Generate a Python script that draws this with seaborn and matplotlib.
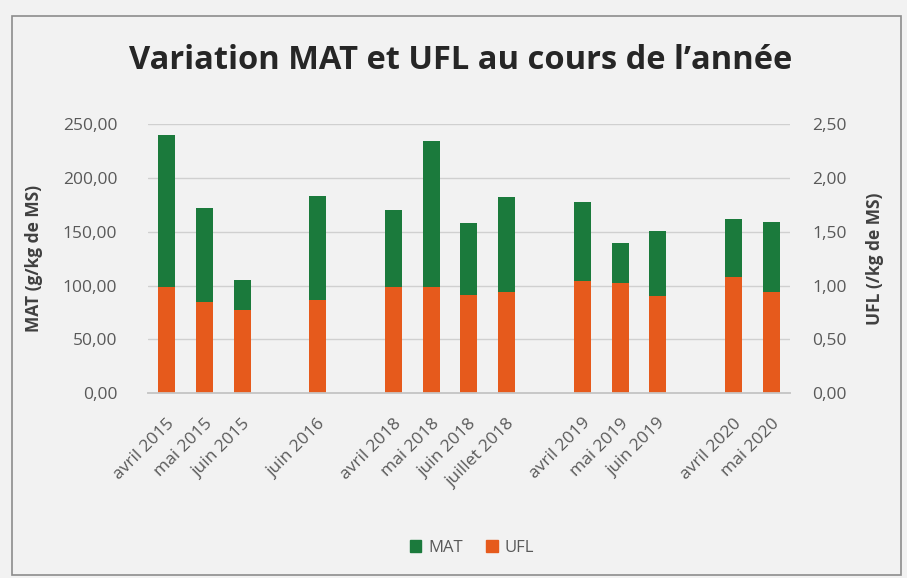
import numpy as np
import pandas as pd
import seaborn as sns
import matplotlib.pyplot as plt
from matplotlib.patches import Patch, Rectangle
from matplotlib.ticker import FuncFormatter, MultipleLocator

# categories on the axis ("" = empty slot between years)
mois = ["avril 2015", "mai 2015", "juin 2015", "", "juin 2016", "",
        "avril 2018", "mai 2018", "juin 2018", "juillet 2018", "",
        "avril 2019", "mai 2019", "juin 2019", "", "avril 2020", "mai 2020"]
mat = [240, 172, 105, np.nan, 183, np.nan,
       170, 234, 158, 182, np.nan,
       178, 140, 151, np.nan, 162, 159]
ufl = [0.99, 0.85, 0.77, np.nan, 0.87, np.nan,
       0.99, 0.99, 0.91, 0.94, np.nan,
       1.04, 1.02, 0.90, np.nan, 1.08, 0.94]

green = "#1b7a3c"
orange = "#e65a1c"
bg = "#f2f2f2"

# unique keys so the empty slots stay on the axis
keys = [m if m else " " * (i + 1) for i, m in enumerate(mois)]
df = pd.DataFrame({"mois": keys, "MAT": mat, "UFL": ufl})

sns.set_theme(style="white")
plt.rcParams["font.family"] = ["Open Sans", "DejaVu Sans"]

fig = plt.figure(figsize=(9.07, 5.78), dpi=100, facecolor=bg)
fig.patches.append(Rectangle((0.013, 0.005), 0.98, 0.968, transform=fig.transFigure,
                             fill=False, edgecolor="#8c8c8c", linewidth=1.2))
ax = fig.add_axes([0.163, 0.32, 0.708, 0.465])
ax.set_facecolor(bg)

sns.barplot(data=df, x="mois", y="MAT", order=keys, color=green, width=0.45,
            saturation=1, linewidth=0, ax=ax)
ax.set_ylim(0, 250)
ax.yaxis.set_major_locator(MultipleLocator(50))
ax.yaxis.set_major_formatter(FuncFormatter(lambda v, p: f"{v:.2f}".replace(".", ",")))
ax.grid(axis="y", color="#d0d0d0", linewidth=1)
ax.set_axisbelow(True)

ax2 = ax.twinx()
sns.barplot(data=df, x="mois", y="UFL", order=keys, color=orange, width=0.45,
            saturation=1, linewidth=0, ax=ax2)
ax2.set_ylim(0, 2.5)
ax2.yaxis.set_major_locator(MultipleLocator(0.5))
ax2.yaxis.set_major_formatter(FuncFormatter(lambda v, p: f"{v:.2f}".replace(".", ",")))

ax.set_xticks(range(len(mois)))
ax.set_xticklabels(mois, rotation=45, ha="right", rotation_mode="anchor",
                   fontsize=12.5, color="#595959")
ax.set_xlabel("")
ax.set_ylabel("MAT (g/kg de MS)", fontsize=12.5, fontweight="bold", color="#404040",
              labelpad=14)
ax2.set_ylabel("UFL (/kg de MS)", fontsize=12.5, fontweight="bold", color="#404040",
               labelpad=14)
ax.tick_params(axis="y", labelsize=12.5, colors="#595959", length=0, pad=22)
ax2.tick_params(axis="y", labelsize=12.5, colors="#595959", length=0, pad=16)
ax.tick_params(axis="x", length=0, pad=16)

for a in (ax, ax2):
    for s in ("top", "left", "right"):
        a.spines[s].set_visible(False)
    a.spines["bottom"].set_color("#c8c8c8")

fig.text(0.508, 0.896, "Variation MAT et UFL au cours de l\u2019année", ha="center",
         va="center", fontsize=23.5, fontweight="bold", color="#262626")

handles = [Patch(color=green, label="MAT"), Patch(color=orange, label="UFL")]
fig.legend(handles=handles, loc="center", bbox_to_anchor=(0.52, 0.052), ncol=2,
           frameon=False, fontsize=12, handlelength=0.7, handleheight=0.7,
           handletextpad=0.4, columnspacing=1.4, labelcolor="#595959")

fig.savefig("out.png", dpi=100, facecolor=bg)
